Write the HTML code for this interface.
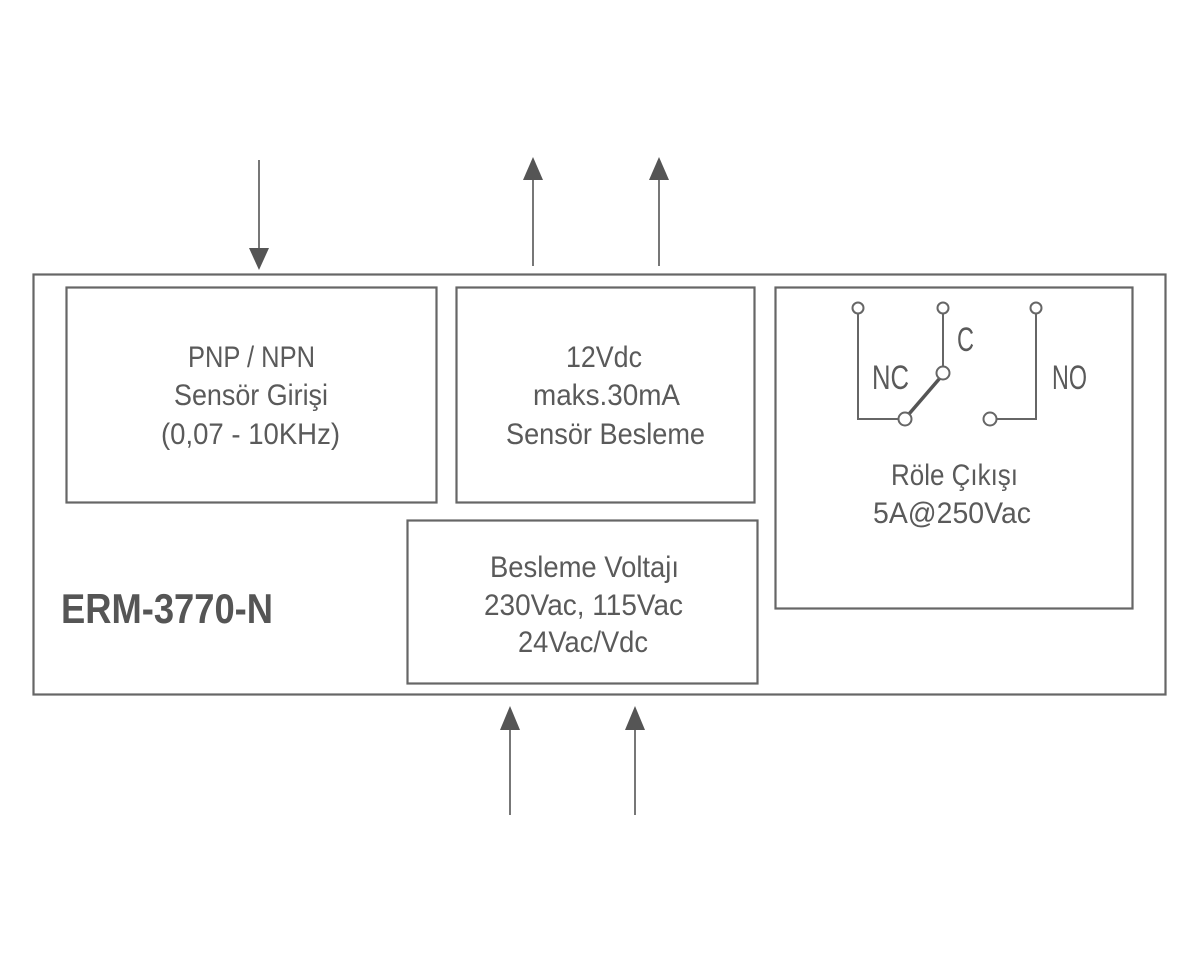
<!DOCTYPE html>
<html><head><meta charset="utf-8"><style>
html,body{margin:0;padding:0;background:#fff;}
svg{display:block;}
text{font-family:"Liberation Sans Narrow","Liberation Sans",sans-serif;fill:#5a5a5a;font-size:30px;}
</style></head><body>
<svg width="1200" height="972" viewBox="0 0 1200 972" xmlns="http://www.w3.org/2000/svg">
<g fill="none" stroke="#666" stroke-width="2.2">
<rect x="33.5" y="274.5" width="1132" height="420"/>
<rect x="66.5" y="287.5" width="370" height="215"/>
<rect x="456.5" y="287.5" width="298" height="215"/>
<rect x="407.5" y="520.5" width="350" height="163"/>
<rect x="775.5" y="287.5" width="357" height="321"/>
</g>
<g stroke="#777" stroke-width="2">
<line x1="259" y1="160" x2="259" y2="255"/>
<line x1="533" y1="175" x2="533" y2="266"/>
<line x1="659" y1="175" x2="659" y2="266"/>
<line x1="510" y1="725" x2="510" y2="815"/>
<line x1="635" y1="725" x2="635" y2="815"/>
</g>
<g fill="#555">
<polygon points="249,248 269,248 259,270"/>
<polygon points="523,180 543,180 533,157"/>
<polygon points="649,180 669,180 659,157"/>
<polygon points="500,730 520,730 510,706"/>
<polygon points="625,730 645,730 635,706"/>
</g>
<g fill="none" stroke="#666" stroke-width="2">
<polyline points="858,313 858,419 899,419"/>
<line x1="943" y1="313" x2="943" y2="368"/>
<polyline points="995,419 1036,419 1036,313"/>
</g>
<line x1="909" y1="414" x2="940" y2="378" stroke="#555" stroke-width="3.5"/>
<g fill="#fff" stroke="#666" stroke-width="2">
<circle cx="858" cy="308" r="5.5"/>
<circle cx="943" cy="308" r="5.5"/>
<circle cx="1036" cy="308" r="5.5"/>
<circle cx="943" cy="373" r="6.5"/>
<circle cx="905" cy="419" r="6.5"/>
<circle cx="990" cy="419" r="6.5"/>
</g>
<text x="188" y="367" textLength="127" lengthAdjust="spacingAndGlyphs">PNP / NPN</text>
<text x="174" y="405" textLength="154" lengthAdjust="spacingAndGlyphs">Sensör Girişi</text>
<text x="161" y="444" textLength="179" lengthAdjust="spacingAndGlyphs">(0,07 - 10KHz)</text>
<text x="566" y="367" textLength="76" lengthAdjust="spacingAndGlyphs">12Vdc</text>
<text x="533" y="405" textLength="147" lengthAdjust="spacingAndGlyphs">maks.30mA</text>
<text x="506" y="444" textLength="199" lengthAdjust="spacingAndGlyphs">Sensör Besleme</text>
<text x="891" y="485" textLength="127" lengthAdjust="spacingAndGlyphs">Röle Çıkışı</text>
<text x="873" y="523" textLength="158" lengthAdjust="spacingAndGlyphs">5A@250Vac</text>
<text x="490" y="577" textLength="189" lengthAdjust="spacingAndGlyphs">Besleme Voltajı</text>
<text x="484" y="615" textLength="199" lengthAdjust="spacingAndGlyphs">230Vac, 115Vac</text>
<text x="518" y="652" textLength="130" lengthAdjust="spacingAndGlyphs">24Vac/Vdc</text>
<text x="872" y="389" textLength="37" lengthAdjust="spacingAndGlyphs" style="font-size:34px">NC</text>
<text x="957" y="351" textLength="17" lengthAdjust="spacingAndGlyphs" style="font-size:34px">C</text>
<text x="1052" y="389" textLength="35" lengthAdjust="spacingAndGlyphs" style="font-size:34px">NO</text>
<text x="61" y="623" textLength="212" lengthAdjust="spacingAndGlyphs" style="font-size:42px;font-weight:bold;fill:#555">ERM-3770-N</text>
</svg>
</body></html>
